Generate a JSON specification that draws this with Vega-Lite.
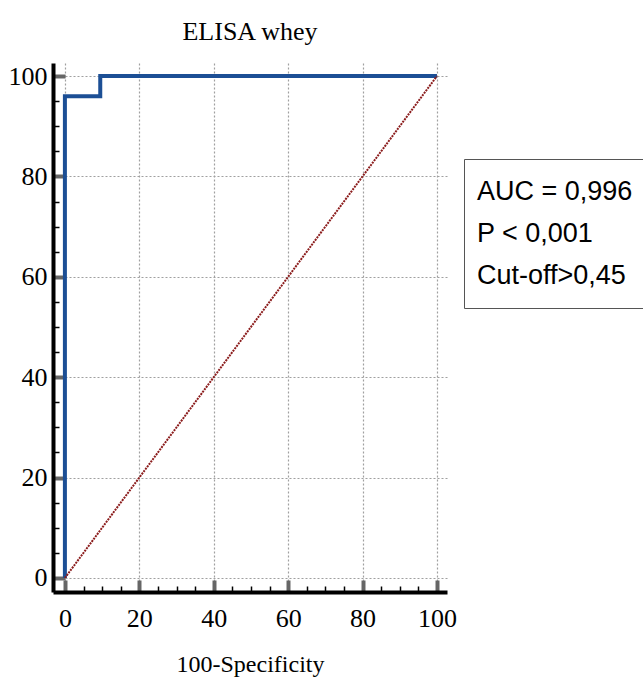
{
  "$schema": "https://vega.github.io/schema/vega-lite/v6.json",
  "autosize": {"type": "none"},
  "padding": {"left": 53, "top": 63, "right": 196, "bottom": 92},
  "width": 394,
  "height": 529,
  "background": "white",
  "title": {
    "text": "ELISA whey",
    "font": "Liberation Serif",
    "fontSize": 26,
    "fontWeight": "normal",
    "color": "black",
    "anchor": "middle",
    "offset": 18
  },
  "config": {"view": {"stroke": null}},
  "datasets": {
    "roc": [
      {"i": 0, "fpr": 0, "tpr": 0},
      {"i": 1, "fpr": 0, "tpr": 96},
      {"i": 2, "fpr": 9.5, "tpr": 96},
      {"i": 3, "fpr": 9.5, "tpr": 100},
      {"i": 4, "fpr": 100, "tpr": 100}
    ],
    "diag": [
      {"i": 0, "fpr": 0, "tpr": 0},
      {"i": 1, "fpr": 100, "tpr": 100}
    ],
    "stats": [
      {"label": "AUC = 0,996"},
      {"label": "P < 0,001"},
      {"label": "Cut-off>0,45"}
    ]
  },
  "layer": [
    {
      "data": {"name": "roc"},
      "mark": {"type": "line", "color": "#1c4f95", "strokeWidth": 4, "strokeJoin": "miter", "strokeCap": "butt"},
      "encoding": {
        "x": {
          "field": "fpr", "type": "quantitative",
          "scale": {"domain": [-3.2, 102.7], "nice": false, "zero": false},
          "axis": {
            "orient": "bottom", "title": null, "labels": false, "grid": false,
            "values": [5, 10, 15, 25, 30, 35, 45, 50, 55, 65, 70, 75, 85, 90, 95],
            "domain": true, "domainColor": "black", "domainWidth": 4,
            "ticks": true, "tickColor": "black", "tickSize": -6, "tickWidth": 1.5,
            "zindex": 1
          }
        },
        "y": {
          "field": "tpr", "type": "quantitative",
          "scale": {"domain": [-2.8, 102.6], "nice": false, "zero": false},
          "axis": {
            "orient": "left", "title": null, "labels": false, "grid": false,
            "values": [5, 10, 15, 25, 30, 35, 45, 50, 55, 65, 70, 75, 85, 90, 95],
            "domain": true, "domainColor": "black", "domainWidth": 4,
            "ticks": true, "tickColor": "black", "tickSize": -6, "tickWidth": 1.5,
            "zindex": 1
          }
        },
        "order": {"field": "i"}
      }
    },
    {
      "data": {"name": "diag"},
      "mark": {"type": "line", "color": "#8b1c1c", "strokeWidth": 2, "strokeDash": [2, 1]},
      "encoding": {
        "x": {
          "field": "fpr", "type": "quantitative",
          "axis": {
            "orient": "bottom", "title": "100-Specificity",
            "values": [0, 20, 40, 60, 80, 100],
            "grid": true, "gridColor": "#a0a0a0", "gridDash": [2, 2], "gridWidth": 1.2,
            "domain": false,
            "ticks": true, "tickColor": "#666666", "tickSize": -12, "tickWidth": 4,
            "labelFont": "Liberation Serif", "labelFontSize": 26, "labelColor": "black",
            "labelPadding": 25,
            "titleFont": "Liberation Serif", "titleFontSize": 24, "titleFontWeight": "normal",
            "titleColor": "black", "titlePadding": 21
          }
        },
        "y": {
          "field": "tpr", "type": "quantitative",
          "axis": {
            "orient": "left", "title": null,
            "values": [0, 20, 40, 60, 80, 100],
            "grid": true, "gridColor": "#a0a0a0", "gridDash": [2, 2], "gridWidth": 1.2,
            "domain": false,
            "ticks": true, "tickColor": "#666666", "tickSize": -12, "tickWidth": 4,
            "labelFont": "Liberation Serif", "labelFontSize": 26, "labelColor": "black",
            "labelPadding": 18
          }
        },
        "order": {"field": "i"}
      }
    },
    {
      "data": {"name": "stats"},
      "mark": {"type": "point", "opacity": 0},
      "encoding": {
        "color": {
          "field": "label", "type": "nominal",
          "sort": ["AUC = 0,996", "P < 0,001", "Cut-off>0,45"],
          "scale": {"range": ["white", "white", "white"]},
          "legend": {
            "title": null, "orient": "none", "legendX": 411, "legendY": 96,
            "strokeColor": "#555555", "fillColor": "white",
            "padding": 19, "rowPadding": 14,
            "symbolSize": 0, "symbolStrokeWidth": 0, "symbolOpacity": 0, "labelOffset": -33,
            "labelFont": "Liberation Sans",
            "labelFontSize": 27, "labelColor": "black", "labelLimit": 400,
            "encode": {"legend": {"update": {"strokeWidth": {"value": 3}}}}
          }
        }
      }
    }
  ],
  "resolve": {"axis": {"x": "independent", "y": "independent"}}
}
